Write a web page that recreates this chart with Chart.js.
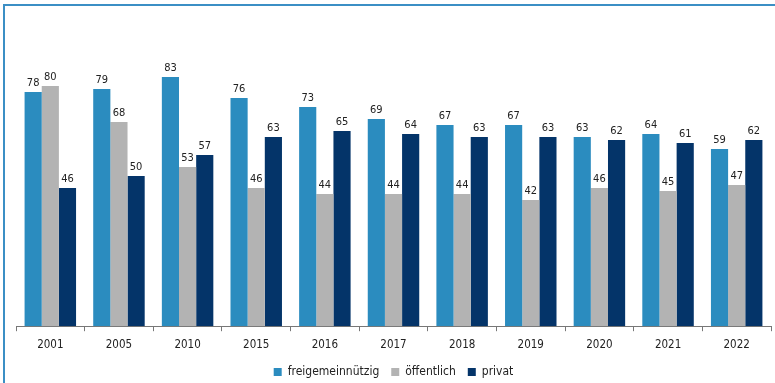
<!DOCTYPE html>
<html>
<head>
<meta charset="utf-8">
<script src="https://cdn.jsdelivr.net/npm/chart.js@4/dist/chart.umd.min.js"></script>
<style>
  html, body { margin: 0; padding: 0; background: #fff; }
  #wrap { position: relative; width: 775px; height: 383px; overflow: hidden; }
  #frame { position: absolute; left: 3px; top: 4px; right: -2px; bottom: -2px;
           border-top: 2px solid #3b8fc5; border-left: 2px solid #3b8fc5; }
  canvas { position: absolute; left: 0; top: 0; }
</style>
</head>
<body>
<div id="wrap">
  <div id="frame"></div>
  <canvas id="c" width="775" height="383"></canvas>
</div>
<script>
const years = ['2001', '2005', '2010', '2015', '2016', '2017', '2018', '2019', '2020', '2021', '2022'];
const freigemeinnuetzig = [78, 79, 83, 76, 73, 69, 67, 67, 63, 64, 59];
const oeffentlich = [80, 68, 53, 46, 44, 44, 44, 42, 46, 45, 47];
const privat = [46, 50, 57, 63, 65, 64, 63, 63, 62, 61, 62];

const FONT = '"DejaVu Sans Condensed", "DejaVu Sans", sans-serif';

// Writes each bar's value just above its top edge
const valueLabels = {
  id: 'valueLabels',
  afterDatasetsDraw(chart) {
    const ctx = chart.ctx;
    ctx.save();
    ctx.font = '11px ' + FONT;
    ctx.fillStyle = '#222';
    ctx.textAlign = 'center';
    ctx.textBaseline = 'alphabetic';
    chart.data.datasets.forEach((ds, i) => {
      chart.getDatasetMeta(i).data.forEach((bar, j) => {
        ctx.fillText(String(ds.data[j]), bar.x, bar.y - 6);
      });
    });
    ctx.restore();
  }
};

new Chart(document.getElementById('c'), {
  type: 'bar',
  data: {
    labels: years,
    datasets: [
      { label: 'freigemeinnützig', data: freigemeinnuetzig, backgroundColor: '#2b8cbf' },
      { label: 'öffentlich', data: oeffentlich, backgroundColor: '#b3b3b3' },
      { label: 'privat', data: privat, backgroundColor: '#043469' }
    ]
  },
  options: {
    responsive: false,
    animation: false,
    devicePixelRatio: 1,
    datasets: { bar: { categoryPercentage: 0.75, barPercentage: 1.0 } },
    layout: { padding: { left: 16, right: 4, top: 26, bottom: -5 } },
    plugins: {
      legend: {
        position: 'bottom',
        labels: {
          boxWidth: 8, boxHeight: 8, padding: 12, color: '#222',
          font: { family: FONT, size: 12 }
        }
      },
      tooltip: { enabled: false }
    },
    scales: {
      x: {
        afterFit(scale) { scale.height -= 5; },
        grid: { drawOnChartArea: false, drawTicks: true, tickLength: 5, color: '#777' },
        border: { display: true, color: '#777' },
        ticks: { color: '#222', padding: 7, font: { family: FONT, size: 11.5 } }
      },
      y: { display: false, min: 0, max: 100 }
    }
  },
  plugins: [valueLabels]
});
</script>
</body>
</html>
